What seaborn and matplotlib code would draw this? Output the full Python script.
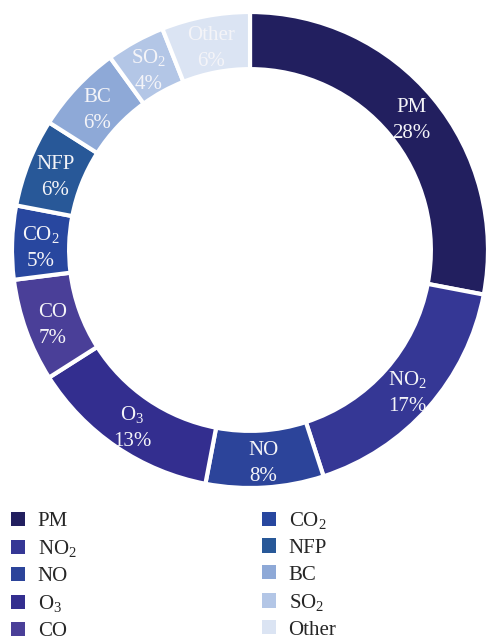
import numpy as np
import matplotlib
matplotlib.use("Agg")
import matplotlib.pyplot as plt
from matplotlib.patches import Patch
import seaborn as sns

# Share of studies by pollutant (%)
pollutants = ["PM", "NO$_2$", "NO", "O$_3$", "CO", "CO$_2$", "NFP", "BC", "SO$_2$", "Other"]
shares = [28, 17, 8, 13, 7, 5, 6, 6, 4, 6]
palette = ["#221f5f", "#353795", "#2c449a", "#332e8f", "#4a3f98",
           "#28479f", "#285898", "#8ea9d7", "#b3c6e6", "#dbe4f3"]

sns.set_theme(style="white")
plt.rcParams["font.family"] = ["Liberation Serif", "DejaVu Serif"]
plt.rcParams["mathtext.fontset"] = "custom"
plt.rcParams["mathtext.rm"] = "Liberation Serif"
plt.rcParams["mathtext.it"] = "Liberation Serif:italic"
plt.rcParams["mathtext.bf"] = "Liberation Serif:bold"

colors = sns.color_palette(palette)

fig = plt.figure(figsize=(4.86, 6.43), dpi=100)
ax = fig.add_axes([12 / 486, 1 - 488 / 643, 476 / 486, 476 / 643])

wedges, _ = ax.pie(
    shares, colors=colors, startangle=90, counterclock=False, radius=1.0,
    wedgeprops=dict(width=0.24, edgecolor="white", linewidth=3),
)
ax.set_aspect("auto")
ax.set_xlim(-1, 1)
ax.set_ylim(-1, 1)
ax.axis("off")

# Name and percentage inside each ring segment
for w, name, v in zip(wedges, pollutants, shares):
    ang = np.deg2rad((w.theta1 + w.theta2) / 2)
    r = 0.88
    ax.annotate(f"{name}\n{v}%", (r * np.cos(ang), r * np.sin(ang)),
                xytext=(0, -3), textcoords="offset points",
                ha="center", va="center", color="#f4f4f8",
                fontsize=15, linespacing=1.5)

handles = [Patch(facecolor=c, edgecolor="none") for c in colors]
fig.legend(handles, pollutants, ncol=2, loc="upper left",
           bbox_to_anchor=(11 / 486, 1 - 510 / 643), frameon=False,
           fontsize=15, handlelength=0.68, handleheight=0.68,
           handletextpad=0.6, columnspacing=8.9, labelspacing=0.35,
           borderpad=0, borderaxespad=0)

fig.savefig("out.png", dpi=100, facecolor="white")
